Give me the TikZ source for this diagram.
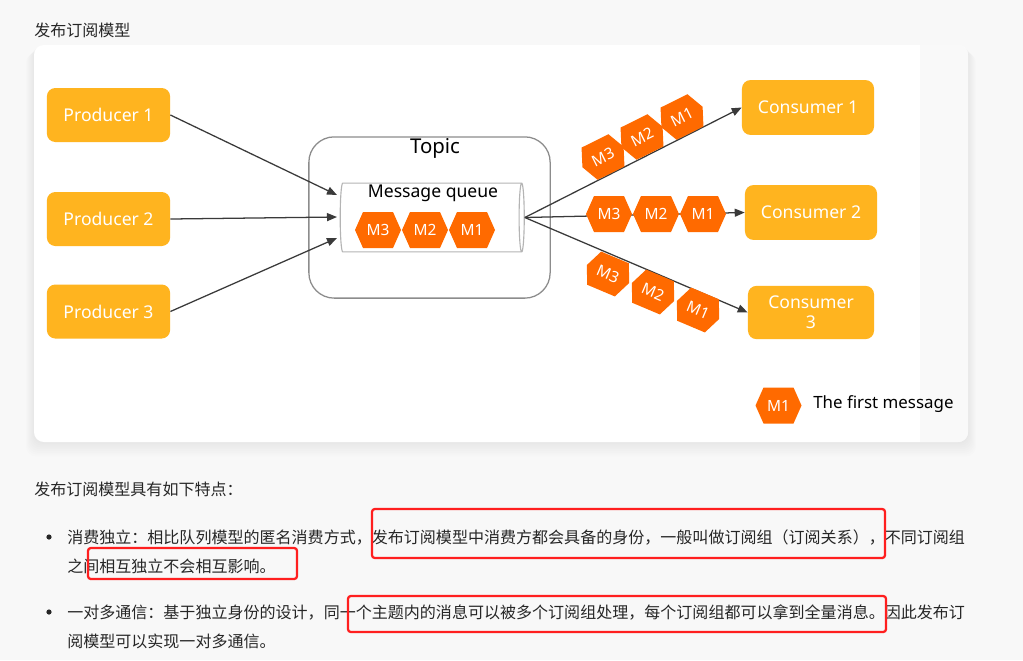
\documentclass[tikz,border=0pt]{standalone}
\usepackage{fontspec}
\setmainfont{Noto Sans CJK SC}
\newfontfamily\labelfont{Noto Sans}
\usetikzlibrary{positioning, arrows.meta, shapes.geometric}
\definecolor{pagebg}{HTML}{F8F8F8}
\definecolor{stripbg}{HTML}{F9F9F9}
\definecolor{amber}{HTML}{FFB41F}
\definecolor{msgorange}{HTML}{FF6A00}
\definecolor{ink}{HTML}{3A3A3A}
\definecolor{textink}{HTML}{262626}
\definecolor{topicline}{HTML}{8C8C8C}
\definecolor{queueline}{HTML}{B4B4B4}
\definecolor{markred}{HTML}{FF1F1F}
\tikzset{
  actor/.style   = {rectangle, rounded corners=6pt, fill=amber, text=white,
                    minimum width=3.08cm, minimum height=1.35cm,
                    align=center, font=\labelfont\fontsize{12.5}{14}\selectfont},
  client/.style  = {actor, minimum width=3.3cm, minimum height=1.37cm},
  topicbox/.style= {rectangle, rounded corners=18pt, draw=topicline, line width=0.9pt,
                    minimum width=6.03cm, minimum height=4.03cm},
  queue/.style   = {cylinder, draw=queueline, line width=0.8pt, fill=white,
                    minimum height=4.6cm, minimum width=1.72cm, aspect=0.55},
  msgtext/.style = {text=white, inner sep=0pt, transform shape,
                    font=\labelfont\fontsize{11}{12}\selectfont},
  caption/.style = {inner sep=0pt, text=black, font=\labelfont\fontsize{12.5}{14}\selectfont},
  para/.style    = {anchor=west, inner sep=0pt, text=textink,
                    font=\fontsize{11.4}{14}\selectfont},
  markbox/.style = {draw=markred, line width=1.6pt, rounded corners=2pt},
  ar/.style      = {-{Triangle[length=2.5mm,width=2mm]}, line width=0.9pt, draw=ink},
  msg/.pic       = {
    \fill[msgorange] (-23,0) -- (-15,-18) -- (15,-18) -- (23,0) -- (15,18) -- (-15,18) -- cycle;
    \node[msgtext] (-txt) at (0,0) {#1};
  },
}

\begin{document}
\begin{tikzpicture}[x=0.025cm, y=-0.025cm]

  \fill[pagebg] (0,0) rectangle (1023,660);
  \useasboundingbox (0,0) rectangle (1023,660);

  % card with a soft shadow
  \foreach \g in {1,...,8}
    \fill[black, opacity=0.006, rounded corners=7pt] (34-\g,45+\g) rectangle (968+\g,442+1.8*\g);
  \fill[white, rounded corners=7pt] (34,45) rectangle (968,442);
  \begin{scope}
    \clip[rounded corners=7pt] (34,45) rectangle (968,442);
    \fill[stripbg] (920,45) rectangle (968,442);
  \end{scope}

  \node[para] (title) at (34,30) {发布订阅模型};

  % producers
  \node[actor] (prod1) at (108.5,115) {Producer 1};
  \node[actor] (prod2) at (108.5,219) {Producer 2};
  \node[actor] (prod3) at (108.5,311.5) {Producer 3};

  % topic with its queue
  \node[topicbox] (topic) at (429.5,217.5) {};
  \node[caption, font=\labelfont\fontsize{14.5}{16}\selectfont] (topiclbl) at (435,148) {Topic};
  \node[queue] (mq) at (430,217.5) {};
  \node[caption] (mqlbl) at (433,193) {Message queue};
  \pic (q3) at (378,230) {msg=M3};
  \pic (q2) at (425,230) {msg=M2};
  \pic (q1) at (472,230) {msg=M1};

  \coordinate (in1) at (337,195);
  \coordinate (in2) at (337,217);
  \coordinate (in3) at (337,238);

  % consumers
  \node[client] (cons1) at (808,107.5) {Consumer 1};
  \node[client] (cons2) at (811,212.5) {Consumer 2};
  \node[client, minimum width=3.15cm, minimum height=1.33cm, font=\labelfont\fontsize{12.5}{14}\selectfont]
       (cons3) at (811,312.5) {Consumer\\3};

  \draw[ar] (prod1.east) -- (in1);
  \draw[ar] (prod2.east) -- (in2);
  \draw[ar] (prod3.east) -- (in3);

  \draw[ar] (mq.east) -- (cons1.west);
  \draw[ar] (mq.east) -- (cons2.west);
  \draw[ar] (mq.east) -- (cons3.west);

  % messages on the way out
  \pic[rotate=26.5] (a3) at (603,157) {msg=M3};
  \pic[rotate=26.5] (a2) at (642,137) {msg=M2};
  \pic[rotate=26.5] (a1) at (682,117) {msg=M1};
  \pic (b3) at (609,214) {msg=M3};
  \pic (b2) at (656,214) {msg=M2};
  \pic (b1) at (703,214) {msg=M1};
  \pic[rotate=-22.9] (c3) at (608,274) {msg=M3};
  \pic[rotate=-22.9] (c2) at (653,292) {msg=M2};
  \pic[rotate=-22.9] (c1) at (698,310) {msg=M1};

  % legend
  \pic (key) at (778.5,405.5) {msg=M1};
  \node[caption, anchor=west, font=\labelfont\fontsize{12}{14}\selectfont] (keylbl) at (813,404) {The first message};

  % text below the card
  \node[para] (intro) at (34,489) {发布订阅模型具有如下特点：};
  \fill[textink] (49,537) circle (2.6);
  \node[para] (l1) at (67,537) {消费独立：相比队列模型的匿名消费方式，发布订阅模型中消费方都会具备的身份，一般叫做订阅组（订阅关系），不同订阅组};
  \node[para] (l2) at (67,566) {之间相互独立不会相互影响。};
  \fill[textink] (49,612) circle (2.6);
  \node[para] (l3) at (67,612) {一对多通信：基于独立身份的设计，同一个主题内的消息可以被多个订阅组处理，每个订阅组都可以拿到全量消息。因此发布订};
  \node[para] (l4) at (67,641) {阅模型可以实现一对多通信。};

  \draw[markbox] (372,509) rectangle (885,558);
  \draw[markbox] (88,548) rectangle (297,579);
  \draw[markbox] (348,596) rectangle (886,632);

\end{tikzpicture}
\end{document}
